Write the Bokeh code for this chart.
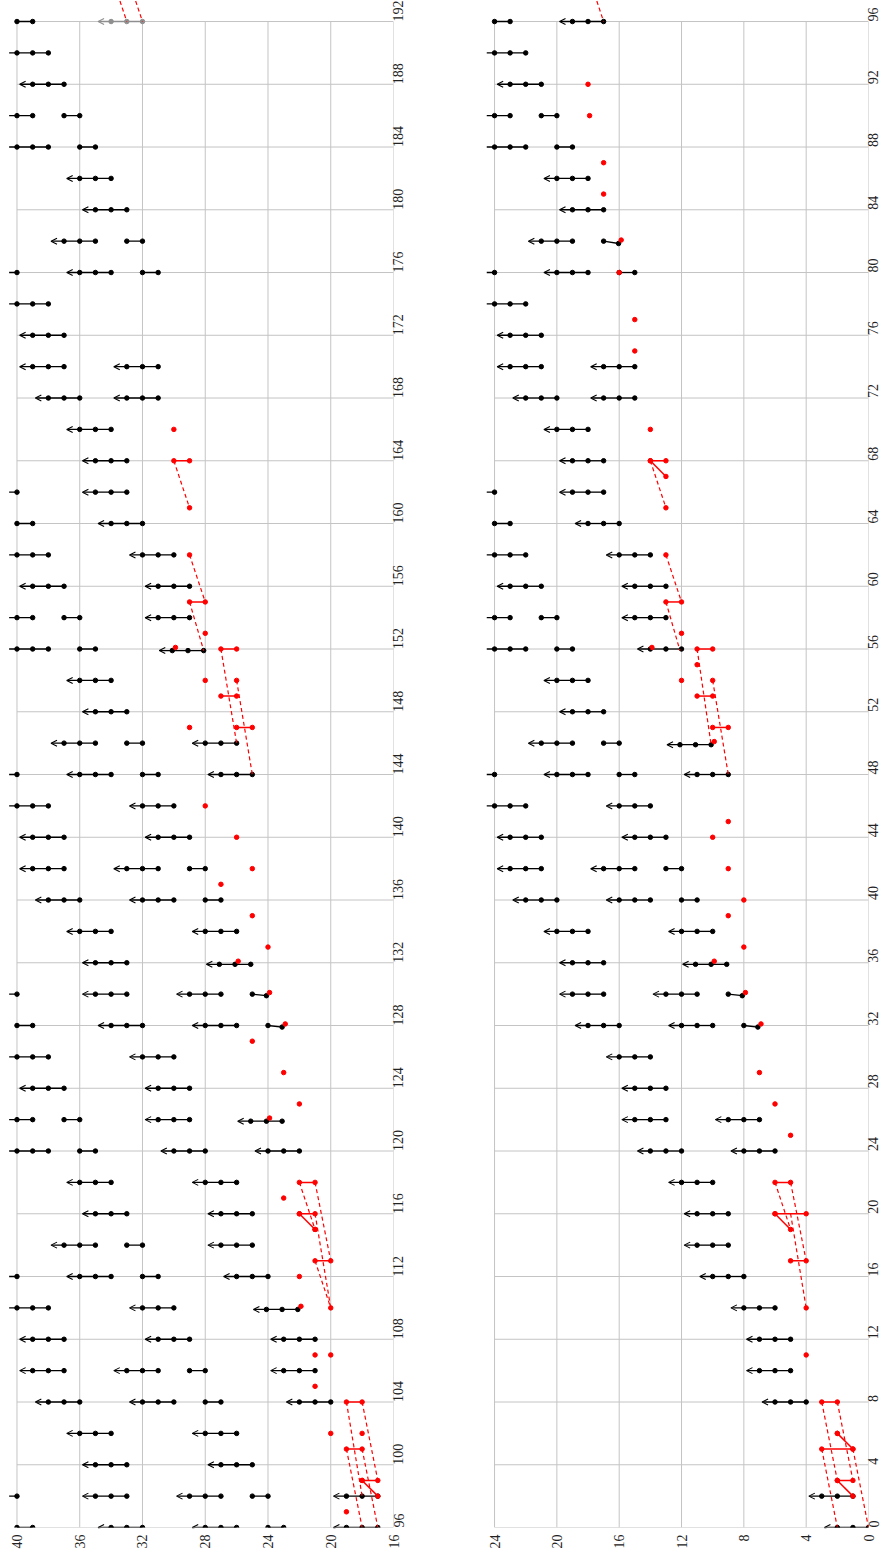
import math
from bokeh.plotting import figure
from bokeh.layouts import row
from bokeh.models import Range1d, FixedTicker, ColumnDataSource, Arrow, OpenHead
from bokeh.embed import file_html
from bokeh.resources import INLINE

# ---------------- upper panel (steps 96..192, level 16..40) ----------------
# black runs: (step, lowest level, highest level, arrow at high end)
up_runs = [
    (96, 39, 40, 0), (96, 32, 34, 1), (96, 26, 28, 1), (96, 23, 24, 0), (96, 17, 19, 1),
    (98, 40, 40.5, 0), (98, 33, 35, 1), (98, 27, 29, 1), (98, 24, 25, 0), (98, 17, 19, 1),
    (100, 33, 35, 1), (100, 25, 27, 1),
    (102, 34, 36, 1), (102, 26, 28, 1),
    (104, 36, 38, 1), (104, 30, 32, 1), (104, 27, 28, 0), (104, 20, 22, 1),
    (106, 37, 39, 1), (106, 31, 33, 1), (106, 28, 29, 0), (106, 21, 23, 1),
    (108, 37, 39, 1), (108, 29, 31, 1), (108, 21, 23, 1),
    (110, 38, 40.5, 0), (110, 30, 32, 1), (109.9, 22.1, 24.1, 1),
    (112, 40, 40.5, 0), (112, 34, 36, 1), (112, 31, 32, 0), (112, 24, 26, 1),
    (114, 35, 37, 1), (114, 32, 33, 0), (114, 25, 27, 1),
    (116, 33, 35, 1), (116, 25, 27, 1),
    (118, 34, 36, 1), (118, 26, 28, 1),
    (120, 38, 40.5, 0), (120, 35, 36, 0), (120, 28, 30, 1), (120, 22, 24, 1),
    (122, 39, 40.5, 0), (122, 36, 37, 0), (122, 29, 31, 1), (121.9, 23.1, 25.1, 1),
    (124, 37, 39, 1), (124, 29, 31, 1),
    (126, 38, 40.5, 0), (126, 30, 32, 1),
    (128, 39, 40, 0), (128, 32, 34, 1), (128, 26, 28, 1),
    (130, 40, 40.5, 0), (130, 33, 35, 1), (130, 27, 29, 1),
    (132, 33, 35, 1), (131.9, 25.1, 27.1, 1),
    (134, 34, 36, 1), (134, 26, 28, 1),
    (136, 36, 38, 1), (136, 30, 32, 1), (136, 27, 28, 0),
    (138, 37, 39, 1), (138, 31, 33, 1), (138, 28, 29, 0),
    (140, 37, 39, 1), (140, 29, 31, 1),
    (142, 38, 40.5, 0), (142, 30, 32, 1),
    (144, 40, 40.5, 0), (144, 34, 36, 1), (144, 31, 32, 0), (144, 25, 27, 1),
    (146, 35, 37, 1), (146, 32, 33, 0), (146, 26, 28, 1),
    (148, 33, 35, 1),
    (150, 34, 36, 1),
    (152, 38, 40.5, 0), (152, 35, 36, 0), (151.9, 28.1, 30.1, 1),
    (154, 39, 40.5, 0), (154, 36, 37, 0), (154, 29, 31, 1),
    (156, 37, 39, 1), (156, 29, 31, 1),
    (158, 38, 40.5, 0), (158, 30, 32, 1),
    (160, 39, 40, 0), (160, 32, 34, 1),
    (162, 40, 40.5, 0), (162, 33, 35, 1),
    (164, 33, 35, 1),
    (166, 34, 36, 1),
    (168, 36, 38, 1), (168, 31, 33, 1),
    (170, 37, 39, 1), (170, 31, 33, 1),
    (172, 37, 39, 1),
    (174, 38, 40.5, 0),
    (176, 40, 40.5, 0), (176, 34, 36, 1), (176, 31, 32, 0),
    (178, 35, 37, 1), (178, 32, 33, 0),
    (180, 33, 35, 1),
    (182, 34, 36, 1),
    (184, 38, 40.5, 0), (184, 35, 36, 0),
    (186, 39, 40.5, 0), (186, 36, 37, 0),
    (188, 37, 39, 1),
    (190, 38, 40.5, 0),
    (192, 39, 40, 0),
]
up_faded_runs = [(192, 32, 34, 1)]
# black bent links: (step0, level0, step1, level1)
up_links = [(128, 24, 127.9, 23.1), (130, 25, 129.9, 24.1)]
# red single points: (step, level)
up_red_pts = [
    (97, 19), (102, 20), (102, 18), (105, 21), (107, 21), (107, 20), (110.1, 21.9),
    (110, 20), (112, 22), (115, 21), (117, 23), (122.1, 23.9), (123, 22), (125, 23),
    (127, 25), (128.1, 22.9), (130.1, 23.9), (132.1, 25.9), (133, 24), (135, 25),
    (137, 27), (138, 25), (140, 26), (142, 28), (147, 29), (150, 28), (150, 26),
    (152.1, 29.9), (153, 28), (158, 29), (161, 29), (166, 30),
]
# red solid links: (step0, level0, step1, level1)
up_red_links = [
    (99, 18, 99, 17), (99, 18, 98, 17), (101, 19, 101, 18), (104, 19, 104, 18),
    (113, 21, 113, 20), (116, 22, 116, 21), (116, 22, 115, 21), (118, 22, 118, 21),
    (147, 26, 147, 25), (149, 27, 149, 26), (152, 27, 152, 26), (155, 29, 155, 28),
    (164, 30, 164, 29),
]
# red dashed links: (step0, level0, step1, level1)
up_red_dashes = [
    (104, 19, 98, 18), (104, 18, 99, 17), (101, 19, 96, 18), (101, 18, 96, 17),
    (118, 22, 115, 21), (118, 21, 113, 20), (116, 21, 110, 20), (113, 21, 110, 20),
    (152, 27, 146, 26), (150, 26, 144, 25), (158, 29, 155, 28), (155, 29, 151.9, 28.1),
    (164, 30, 161, 29), (195, 34, 192, 33), (195, 33, 192, 32),
]

# ---------------- lower panel (steps 0..96, level 0..24) ----------------
lo_runs = [
    (0, 0, 2, 1), (2, 1, 3, 1), (8, 4, 6, 1), (10, 5, 7, 1), (12, 5, 7, 1), (14, 6, 8, 1),
    (16, 8, 10, 1), (18, 9, 11, 1), (20, 9, 11, 1), (22, 10, 12, 1),
    (24, 12, 14, 1), (24, 6, 8, 1), (26, 13, 15, 1), (26, 7, 9, 1),
    (28, 13, 15, 1), (30, 14, 16, 1),
    (32, 16, 18, 1), (32, 10, 12, 1),
    (34, 17, 19, 1), (34, 11, 13, 1),
    (36, 17, 19, 1), (35.9, 9.1, 11.1, 1),
    (38, 18, 20, 1), (38, 10, 12, 1),
    (40, 20, 22, 1), (40, 14, 16, 1), (40, 11, 12, 0),
    (42, 21, 23, 1), (42, 15, 17, 1), (42, 12, 13, 0),
    (44, 21, 23, 1), (44, 13, 15, 1),
    (46, 22, 24.5, 0), (46, 14, 16, 1),
    (48, 24, 24.5, 0), (48, 18, 20, 1), (48, 15, 16, 0), (48, 9, 11, 1),
    (50, 19, 21, 1), (50, 16, 17, 0), (49.9, 10.1, 12.1, 1),
    (52, 17, 19, 1),
    (54, 18, 20, 1),
    (56, 22, 24.5, 0), (56, 19, 20, 0), (56, 12, 14, 1),
    (58, 23, 24.5, 0), (58, 20, 21, 0), (58, 13, 15, 1),
    (60, 21, 23, 1), (60, 13, 15, 1),
    (62, 22, 24.5, 0), (62, 14, 16, 1),
    (64, 23, 24, 0), (64, 16, 18, 1),
    (66, 24, 24.5, 0), (66, 17, 19, 1),
    (68, 17, 19, 1),
    (70, 18, 20, 1),
    (72, 20, 22, 1), (72, 15, 17, 1),
    (74, 21, 23, 1), (74, 15, 17, 1),
    (76, 21, 23, 1),
    (78, 22, 24.5, 0),
    (80, 24, 24.5, 0), (80, 18, 20, 1), (80, 15, 16, 0),
    (82, 19, 21, 1),
    (84, 17, 19, 1),
    (86, 18, 20, 1),
    (88, 22, 24.5, 0), (88, 19, 20, 0),
    (90, 23, 24.5, 0), (90, 20, 21, 0),
    (92, 21, 23, 1),
    (94, 22, 24.5, 0),
    (96, 23, 24, 0), (96, 17, 19, 1),
]
lo_faded_runs = []
lo_links = [(32, 8, 31.9, 7.1), (34, 9, 33.9, 8.1), (82, 17, 81.85, 16.04)]
lo_red_pts = [
    (6, 2), (11, 4), (14, 4), (25, 5), (27, 6), (29, 7), (32.1, 6.9), (34.1, 7.9),
    (36.1, 9.9), (37, 8), (39, 9), (40, 8), (42, 9), (44, 10),
    (45, 9), (50.1, 9.9), (54, 12), (54, 10), (55, 11), (57, 12), (56.1, 13.9),
    (62, 13), (65, 13), (70, 14), (75, 15), (77, 15), (80, 16), (82.07, 15.87),
    (85, 17), (87, 17), (90, 17.9), (92, 18),
]
lo_red_links = [
    (3, 2, 3, 1), (3, 2, 2, 1), (5, 3, 5, 1), (6, 2, 5, 1), (8, 3, 8, 2),
    (17, 5, 17, 4), (20, 6, 20, 4), (20, 6, 19, 5), (22, 6, 22, 5),
    (51, 10, 51, 9), (53, 11, 53, 10), (56, 11, 56, 10),
    (59, 13, 59, 12), (68, 14, 68, 13), (68, 14, 67, 13),
]
lo_red_dashes = [
    (8, 3, 3, 2), (8, 2, 3, 1), (5, 3, 0, 2), (5, 1, 0, 0),
    (22, 6, 19, 5), (22, 5, 17, 4), (20, 5, 14, 4),
    (56, 11, 49.9, 10.1), (54, 10, 48, 9),
    (62, 13, 59, 12), (59, 13, 55.9, 12.1), (68, 14, 65, 13), (99, 18, 96, 17),
]

LEVEL_TICKS_UP = [16, 20, 24, 28, 32, 36, 40]
STEP_TICKS_UP = list(range(96, 193, 4))
LEVEL_TICKS_LO = [0, 4, 8, 12, 16, 20, 24]
STEP_TICKS_LO = list(range(0, 97, 4))

FONT = "Liberation Serif"
GRID = "#c4c4c4"


def make_panel(size_kw, x_range, y_range, rb, lev_ticks, step_ticks, runs, faded, links,
               red_pts, red_links, red_dashes):
    p = figure(frame_height=1527, x_range=x_range, y_range=y_range,
               y_axis_location="right", output_backend="svg", toolbar_location=None,
               min_border_left=0, min_border_top=0, min_border_right=rb, min_border_bottom=0,
               **size_kw)
    p.grid.visible = False
    p.outline_line_color = None
    lmin, lmax = min(lev_ticks), max(lev_ticks)
    smin, smax = min(step_ticks), max(step_ticks)
    # grid
    p.segment(x0=lev_ticks, x1=lev_ticks, y0=[smin] * len(lev_ticks), y1=[smax] * len(lev_ticks),
              line_color=GRID, line_width=1)
    p.segment(x0=[lmin] * len(step_ticks), x1=[lmax] * len(step_ticks), y0=step_ticks, y1=step_ticks,
              line_color=GRID, line_width=1)

    def draw_runs(rs, color):
        if not rs:
            return
        x0, x1, ys, dx, dy = [], [], [], [], []
        ax0, ax1, ay = [], [], []
        for (s, a, b, arr) in rs:
            x0.append(a); x1.append(b); ys.append(s)
            k = a
            while k <= b + 1e-6:
                dx.append(k); dy.append(s)
                k += 1
            if arr:
                ax0.append(b); ax1.append(b + 0.83); ay.append(s)
        p.segment(x0=x0, x1=x1, y0=ys, y1=ys, line_color=color, line_width=1.3)
        if ax0:
            src = ColumnDataSource(dict(x0=ax0, x1=ax1, y=ay))
            p.add_layout(Arrow(end=OpenHead(size=6, line_color=color, line_width=1.1),
                               x_start="x0", y_start="y", x_end="x1", y_end="y",
                               source=src, line_color=color, line_width=1.3))
        p.scatter(dx, dy, size=4.5, color=color)

    draw_runs(runs, "black")
    draw_runs(faded, "#8f8f8f")
    if links:
        p.segment(x0=[l[1] for l in links], y0=[l[0] for l in links],
                  x1=[l[3] for l in links], y1=[l[2] for l in links],
                  line_color="black", line_width=1.3)
        p.scatter([l[1] for l in links] + [l[3] for l in links],
                  [l[0] for l in links] + [l[2] for l in links], size=4.5, color="black")
    # red dashed
    p.segment(x0=[d[1] for d in red_dashes], y0=[d[0] for d in red_dashes],
              x1=[d[3] for d in red_dashes], y1=[d[2] for d in red_dashes],
              line_color="red", line_width=1.2, line_dash="4 3")
    # red solid
    p.segment(x0=[d[1] for d in red_links], y0=[d[0] for d in red_links],
              x1=[d[3] for d in red_links], y1=[d[2] for d in red_links],
              line_color="red", line_width=1.5)
    rx = [d[1] for d in red_links] + [d[3] for d in red_links] + [q[1] for q in red_pts]
    ry = [d[0] for d in red_links] + [d[2] for d in red_links] + [q[0] for q in red_pts]
    p.scatter(rx, ry, size=4.5, color="red")

    for ax, ticks, so in ((p.xaxis, lev_ticks, 7), (p.yaxis, step_ticks, 5)):
        ax.ticker = FixedTicker(ticks=ticks)
        ax.major_label_orientation = math.pi / 2
        ax.axis_line_color = None
        ax.major_tick_line_color = None
        ax.minor_tick_line_color = None
        ax.major_tick_out = 0
        ax.major_tick_in = 0
        ax.minor_tick_out = 0
        ax.minor_tick_in = 0
        ax.major_label_text_font = FONT
        ax.major_label_text_font_size = "14px"
        ax.major_label_text_color = "#222222"
        ax.major_label_standoff = so
    return p


left = make_panel(dict(frame_width=393), Range1d(41.05, 16), Range1d(96, 193.34), 92,
                  LEVEL_TICKS_UP, STEP_TICKS_UP, up_runs, up_faded_runs, up_links,
                  up_red_pts, up_red_links, up_red_dashes)
right = make_panel(dict(width=401), Range1d(24.58, 0), Range1d(0, 97.34), 0,
                   LEVEL_TICKS_LO, STEP_TICKS_LO, lo_runs, lo_faded_runs, lo_links,
                   lo_red_pts, lo_red_links, lo_red_dashes)

layout = row(left, right)
open("out.html", "w").write(file_html(layout, INLINE))
